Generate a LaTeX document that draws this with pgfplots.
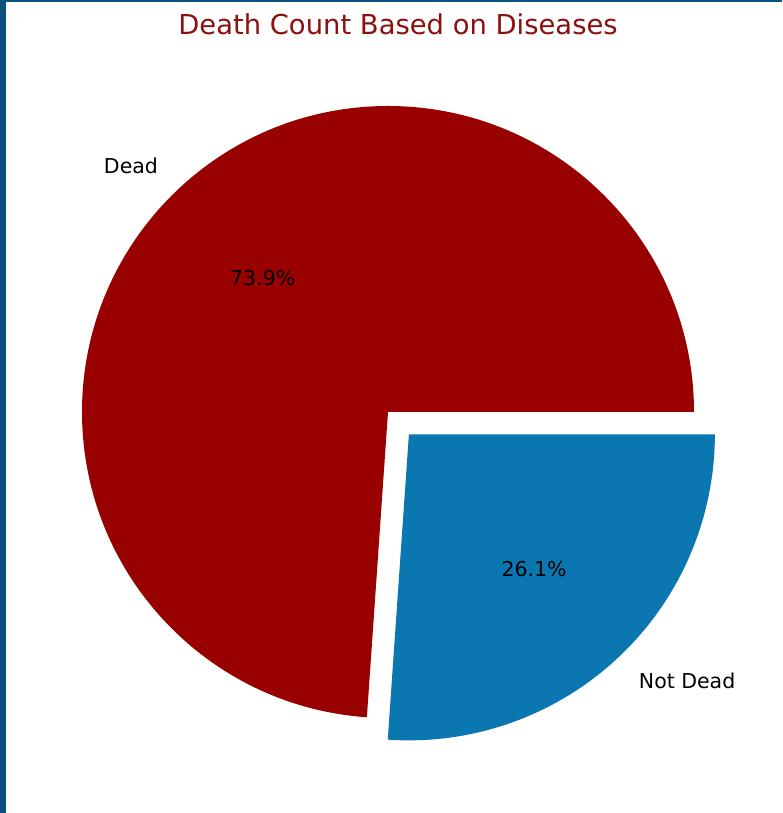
\documentclass[border=0pt]{standalone}
\usepackage{pgfplots}
\pgfplotsset{compat=1.18}
\usepackage{pgfplotstable}
\usepackage{fontspec}
\setmainfont{DejaVu Sans}

\definecolor{deadred}{HTML}{990000}
\definecolor{aliveblue}{HTML}{0B77B0}
\definecolor{titlered}{HTML}{8B1010}
\definecolor{framebl}{HTML}{0A5380}

% share of each outcome (percent), explode factor
\pgfplotstableread{
label     value explode
Dead      73.9  0
{Not Dead} 26.1 0.1
}\piedata

\begin{document}
\begin{tikzpicture}
\begin{axis}[
  x=0.5pt, y=0.5pt,
  xmin=0, xmax=782, ymin=0, ymax=813,
  scale only axis,
  hide axis,
  clip=false,
  disabledatascaling,
]
% canvas and frame
\path (axis cs:0,0) rectangle (axis cs:782,813);
\fill[framebl] (axis cs:0,0) rectangle (axis cs:6,813);
\fill[framebl] (axis cs:0,811) rectangle (axis cs:782,813);

\node[text=titlered, font=\fontsize{13.7}{16}\selectfont]
  at (axis cs:398,789) {Death Count Based on Diseases};

% wedges, counter-clockwise from 0 degrees
\pgfplotstablegetrowsof{\piedata}
\pgfmathtruncatemacro{\nrows}{\pgfplotsretval-1}
\def\startang{0}
\pgfplotsforeachungrouped \i in {0,...,\nrows}{
  \pgfplotstablegetelem{\i}{value}\of{\piedata}\let\val\pgfplotsretval
  \pgfplotstablegetelem{\i}{label}\of{\piedata}\let\lab\pgfplotsretval
  \pgfplotstablegetelem{\i}{explode}\of{\piedata}\let\exf\pgfplotsretval
  \pgfmathsetmacro{\endang}{\startang+3.6*\val}
  \pgfmathsetmacro{\midang}{(\startang+\endang)/2}
  \pgfmathsetmacro{\cx}{388+306*\exf*cos(\midang)}
  \pgfmathsetmacro{\cy}{401+306*\exf*sin(\midang)}
  \ifnum\i=0 \def\wcol{deadred}\else\def\wcol{aliveblue}\fi
  \edef\doit{\noexpand\fill[\wcol] (axis cs:\cx,\cy) -- ++(\startang:153pt) arc[start angle=\startang, end angle=\endang, radius=153pt] -- cycle;}
  \doit
  \pgfmathsetmacro{\px}{\cx+0.6*306*cos(\midang)}
  \pgfmathsetmacro{\py}{\cy+0.6*306*sin(\midang)}
  \pgfmathsetmacro{\lx}{\cx+1.1*306*cos(\midang)}
  \pgfmathsetmacro{\ly}{\cy+1.1*306*sin(\midang)}
  \pgfmathparse{cos(\midang)<0 ? "east" : "west"}\let\anc\pgfmathresult
  \edef\doit{\noexpand\node[font=\noexpand\fontsize{10.25}{12}\noexpand\selectfont] at (axis cs:\px,\py) {\val\noexpand\%};
    \noexpand\node[anchor=\anc, inner xsep=0pt, font=\noexpand\fontsize{10.25}{12}\noexpand\selectfont] at (axis cs:\lx,\ly) {\lab};}
  \doit
  \global\let\startang\endang
}
\end{axis}
\end{tikzpicture}
\end{document}
